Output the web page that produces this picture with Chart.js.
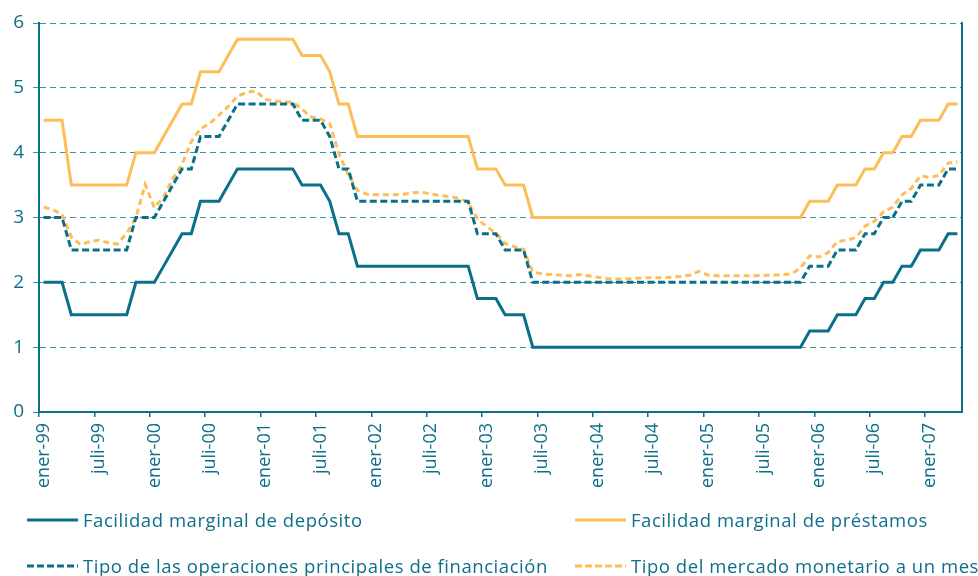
<!DOCTYPE html>
<html>
<head>
<meta charset="utf-8">
<script src="https://cdn.jsdelivr.net/npm/chart.js@4.4.1/dist/chart.umd.min.js"></script>
<style>
  html, body { margin: 0; padding: 0; background: #ffffff; overflow: hidden; }
  #wrap { position: relative; width: 978px; height: 576px; overflow: hidden; }
  #c { position: absolute; left: 0; top: 0; }
  .leg { position: absolute; display: flex; align-items: center; font-family: "Open Sans", sans-serif; font-size: 18.5px; letter-spacing: 0.55px; color: #0E6F8A; white-space: nowrap; }
  .leg svg { margin-right: 5px; flex: none; }
</style>
</head>
<body>
<div id="wrap">
  <canvas id="c" width="978" height="576"></canvas>
  <div id="legend"></div>
</div>
<script>
// ---- Data (monthly, January 1999 - April 2007) ----
const monthNames = ['ener','febr','marz','abri','mayo','juni','juli','agos','sept','octu','novi','dici'];
const years = ['99','00','01','02','03','04','05','06','07'];
const categories = [];
years.forEach(y => monthNames.forEach(m => categories.push(m + '-' + y)));
categories.length = 100; // ener-99 ... abri-07

const seriesNames = [
  'Facilidad marginal de depósito',
  'Facilidad marginal de préstamos',
  'Tipo de las operaciones principales de financiación',
  'Tipo del mercado monetario a un mes'
];

const deposito = [
  2.00,2.00,2.00,1.50,1.50,1.50,1.50,1.50,1.50,1.50,2.00,2.00,
  2.00,2.25,2.50,2.75,2.75,3.25,3.25,3.25,3.50,3.75,3.75,3.75,
  3.75,3.75,3.75,3.75,3.50,3.50,3.50,3.25,2.75,2.75,2.25,2.25,
  2.25,2.25,2.25,2.25,2.25,2.25,2.25,2.25,2.25,2.25,2.25,1.75,
  1.75,1.75,1.50,1.50,1.50,1.00,1.00,1.00,1.00,1.00,1.00,1.00,
  1.00,1.00,1.00,1.00,1.00,1.00,1.00,1.00,1.00,1.00,1.00,1.00,
  1.00,1.00,1.00,1.00,1.00,1.00,1.00,1.00,1.00,1.00,1.00,1.25,
  1.25,1.25,1.50,1.50,1.50,1.75,1.75,2.00,2.00,2.25,2.25,2.50,
  2.50,2.50,2.75,2.75
];
const prestamos = [
  4.50,4.50,4.50,3.50,3.50,3.50,3.50,3.50,3.50,3.50,4.00,4.00,
  4.00,4.25,4.50,4.75,4.75,5.25,5.25,5.25,5.50,5.75,5.75,5.75,
  5.75,5.75,5.75,5.75,5.50,5.50,5.50,5.25,4.75,4.75,4.25,4.25,
  4.25,4.25,4.25,4.25,4.25,4.25,4.25,4.25,4.25,4.25,4.25,3.75,
  3.75,3.75,3.50,3.50,3.50,3.00,3.00,3.00,3.00,3.00,3.00,3.00,
  3.00,3.00,3.00,3.00,3.00,3.00,3.00,3.00,3.00,3.00,3.00,3.00,
  3.00,3.00,3.00,3.00,3.00,3.00,3.00,3.00,3.00,3.00,3.00,3.25,
  3.25,3.25,3.50,3.50,3.50,3.75,3.75,4.00,4.00,4.25,4.25,4.50,
  4.50,4.50,4.75,4.75
];
const principales = [
  3.00,3.00,3.00,2.50,2.50,2.50,2.50,2.50,2.50,2.50,3.00,3.00,
  3.00,3.25,3.50,3.75,3.75,4.25,4.25,4.25,4.50,4.75,4.75,4.75,
  4.75,4.75,4.75,4.75,4.50,4.50,4.50,4.25,3.75,3.75,3.25,3.25,
  3.25,3.25,3.25,3.25,3.25,3.25,3.25,3.25,3.25,3.25,3.25,2.75,
  2.75,2.75,2.50,2.50,2.50,2.00,2.00,2.00,2.00,2.00,2.00,2.00,
  2.00,2.00,2.00,2.00,2.00,2.00,2.00,2.00,2.00,2.00,2.00,2.00,
  2.00,2.00,2.00,2.00,2.00,2.00,2.00,2.00,2.00,2.00,2.00,2.25,
  2.25,2.25,2.50,2.50,2.50,2.75,2.75,3.00,3.00,3.25,3.25,3.50,
  3.50,3.50,3.75,3.75
];
const mercadoMes = [
  3.16,3.12,3.05,2.70,2.58,2.63,2.65,2.61,2.59,2.76,3.00,3.51,
  3.15,3.32,3.60,3.82,4.17,4.37,4.45,4.58,4.71,4.87,4.93,4.95,
  4.82,4.80,4.78,4.78,4.67,4.55,4.52,4.45,3.98,3.66,3.42,3.36,
  3.35,3.35,3.35,3.36,3.38,3.39,3.36,3.34,3.32,3.30,3.23,2.98,
  2.86,2.76,2.60,2.55,2.51,2.16,2.13,2.12,2.11,2.10,2.12,2.10,
  2.08,2.06,2.05,2.05,2.06,2.07,2.07,2.07,2.08,2.09,2.11,2.17,
  2.11,2.10,2.10,2.10,2.10,2.10,2.11,2.11,2.12,2.13,2.22,2.41,
  2.39,2.46,2.63,2.65,2.69,2.87,2.94,3.09,3.16,3.35,3.45,3.64,
  3.62,3.65,3.84,3.86
];
const yTicks = [0,1,2,3,4,5,6];

// ---- Styles ----
const TEAL = '#0A7089';
const ORANGE = '#FDBD57';
const GRID = '#3E8FA7';
const TEXT = '#0E6F8A';
const FONT = '"Open Sans", sans-serif';

const datasets = [
  { label: seriesNames[0], data: deposito, borderColor: TEAL, borderDash: [] },
  { label: seriesNames[1], data: prestamos, borderColor: ORANGE, borderDash: [] },
  { label: seriesNames[2], data: principales, borderColor: TEAL, borderDash: [7, 3.5] },
  { label: seriesNames[3], data: mercadoMes, borderColor: ORANGE, borderDash: [6, 4] }
].map(d => Object.assign(d, {
  borderWidth: 3, pointRadius: 0, pointHoverRadius: 0, tension: 0, fill: false,
  borderCapStyle: 'butt', borderJoinStyle: 'miter'
}));

const chart = new Chart(document.getElementById('c'), {
  type: 'line',
  data: { labels: categories, datasets: datasets },
  options: {
    responsive: false,
    animation: false,
    events: [],
    layout: { padding: { top: 23, left: 0, right: 0, bottom: 0 } },
    plugins: { legend: { display: false }, tooltip: { enabled: false } },
    scales: {
      x: {
        type: 'category',
        offset: true,
        grid: {
          display: true, offset: true, drawOnChartArea: false, drawTicks: true, tickLength: 5,
          color: ctx => (ctx.index % 6 === 0 ? TEAL : 'rgba(0,0,0,0)'), lineWidth: 1.5
        },
        border: { display: true, color: TEAL, width: 2 },
        ticks: {
          autoSkip: false, maxRotation: 90, minRotation: 90, padding: 6,
          color: TEXT, font: { family: FONT, size: 18 },
          callback: function (v, i) { return i % 6 === 0 ? this.getLabelForValue(v) : ''; }
        },
        afterFit: s => { s.height = 164; s.paddingLeft = 0; s.paddingRight = 0; }
      },
      y: {
        min: 0, max: 6,
        afterBuildTicks: s => { s.ticks = yTicks.map(v => ({ value: v })); },
        grid: { color: GRID, lineWidth: 1, tickLength: 6, tickBorderDash: [6, 4], tickColor: GRID },
        border: { display: true, color: TEAL, width: 2, dash: [6, 4] },
        ticks: { color: TEXT, padding: 9, font: { family: FONT, size: 19 } },
        afterFit: s => { s.width = 39; }
      },
      y2: {
        position: 'right', min: 0, max: 6,
        grid: { display: false },
        border: { display: true, color: TEAL, width: 2 },
        ticks: { display: false },
        afterFit: s => { s.width = 16; s.paddingTop = 0; s.paddingBottom = 0; }
      }
    }
  }
});

// ---- HTML legend built from the datasets ----
const legendPos = [
  { left: 27, top: 507 }, { left: 575, top: 507 },
  { left: 27, top: 553 }, { left: 575, top: 553 }
];
const legendEl = document.getElementById('legend');
chart.data.datasets.forEach((ds, i) => {
  const item = document.createElement('div');
  item.className = 'leg';
  item.style.left = legendPos[i].left + 'px';
  item.style.top = legendPos[i].top + 'px';
  const dash = ds.borderDash && ds.borderDash.length ? 'stroke-dasharray="7,3"' : '';
  item.innerHTML = '<svg width="51" height="6"><line x1="0" y1="3" x2="51" y2="3" stroke="' +
    ds.borderColor + '" stroke-width="3" ' + dash + '/></svg><span></span>';
  item.querySelector('span').textContent = ds.label;
  legendEl.appendChild(item);
});
</script>
</body>
</html>
